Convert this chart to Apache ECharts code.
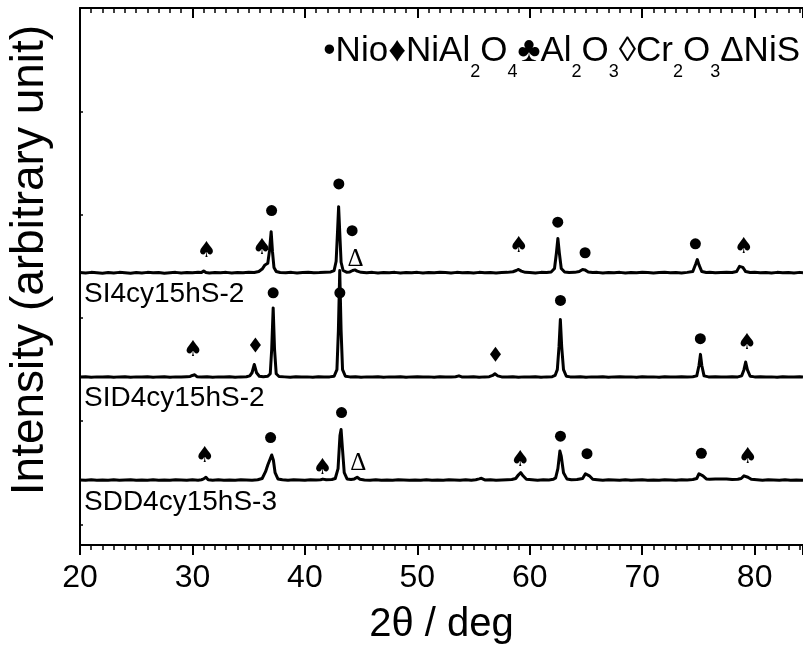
<!DOCTYPE html>
<html>
<head>
<meta charset="utf-8">
<script src="https://cdn.jsdelivr.net/npm/echarts@6/dist/echarts.min.js"></script>
<style>
  html, body { margin: 0; padding: 0; background: #fff; }
  #chart { width: 803px; height: 650px; }
</style>
</head>
<body>
<div id="chart"></div>
<script>
// XRD patterns, 2θ in degrees vs. intensity above each pattern's own baseline
const sampleNames = ['SI4cy15hS-2', 'SID4cy15hS-2', 'SDD4cy15hS-3'];
const offsets = [13.14, 8.09, 3.1];

const patternSI = [
  [20.0,.05],[20.5,.03],[21.0,.06],[21.5,.04],[22.0,.02],[22.5,.05],[23.0,.03],[23.5,.06],[24.0,.04],[24.5,.02],
  [25.0,.05],[25.5,.03],[26.0,.06],[26.5,.04],[27.0,.05],[27.5,.02],[28.0,.04],[28.5,.06],[29.0,.03],[29.5,.05],
  [30.0,.04],[30.5,.06],[30.8,.05],[31.0,.13],[31.2,.05],[31.5,.03],[32.0,.05],[32.5,.04],[33.0,.06],[33.5,.03],
  [34.0,.05],[34.5,.04],[35.0,.06],[35.5,.05],[35.9,.1],[36.2,.22],[36.45,.42],[36.7,.5],[36.85,1.1],[37.0,2.03],
  [37.12,1.05],[37.25,.3],[37.45,.1],[37.8,.05],[38.3,.04],[38.8,.06],[39.3,.03],[39.8,.05],[40.3,.06],[40.8,.04],
  [41.3,.05],[41.8,.07],[42.3,.08],[42.6,.15],[42.78,.6],[42.9,2.0],[43.0,3.24],[43.1,2.0],[43.22,.55],[43.4,.15],
  [43.7,.07],[44.0,.08],[44.25,.15],[44.45,.18],[44.65,.12],[45.0,.06],[45.5,.04],[46.0,.06],[46.5,.03],[47.0,.05],
  [47.5,.04],[48.0,.06],[48.5,.03],[49.0,.05],[49.5,.04],[50.0,.06],[50.5,.03],[51.0,.05],[51.5,.04],[52.0,.06],
  [52.5,.05],[53.0,.03],[53.5,.06],[54.0,.04],[54.5,.05],[55.0,.03],[55.5,.06],[56.0,.04],[56.5,.05],[57.0,.03],
  [57.5,.05],[58.0,.06],[58.5,.09],[58.8,.15],[59.0,.2],[59.25,.12],[59.6,.06],[60.0,.05],[60.5,.03],[61.0,.06],
  [61.5,.05],[61.9,.08],[62.2,.25],[62.37,1.0],[62.5,1.7],[62.63,1.0],[62.8,.25],[63.1,.08],[63.5,.05],[64.0,.06],
  [64.4,.1],[64.7,.2],[64.9,.18],[65.2,.08],[65.6,.05],[66.0,.06],[66.5,.03],[67.0,.05],[67.5,.04],[68.0,.06],
  [68.5,.03],[69.0,.05],[69.5,.04],[70.0,.06],[70.5,.05],[71.0,.03],[71.5,.05],[72.0,.06],[72.5,.04],[73.0,.05],
  [73.5,.03],[74.0,.06],[74.5,.1],[74.75,.45],[74.9,.68],[75.05,.42],[75.3,.1],[75.7,.05],[76.0,.06],[76.5,.04],
  [77.0,.05],[77.5,.06],[78.0,.05],[78.4,.1],[78.65,.35],[78.8,.44],[78.95,.3],[79.2,.1],[79.6,.05],[80.0,.06],
  [80.5,.04],[81.0,.05],[81.5,.03],[82.0,.06],[82.5,.04],[83.0,.05],[83.5,.03],[84.0,.06],[84.3,.04]
];

const patternSID = [
  [20.0,.04],[20.5,.06],[21.0,.03],[21.5,.05],[22.0,.04],[22.5,.06],[23.0,.03],[23.5,.05],[24.0,.06],[24.5,.03],
  [25.0,.05],[25.5,.04],[26.0,.06],[26.5,.03],[27.0,.05],[27.5,.06],[28.0,.03],[28.5,.05],[29.0,.04],[29.5,.06],
  [29.8,.07],[30.0,.12],[30.2,.15],[30.4,.06],[30.8,.04],[31.3,.06],[31.8,.03],[32.3,.05],[32.8,.04],[33.3,.06],
  [33.8,.03],[34.3,.05],[34.8,.06],[35.1,.1],[35.3,.25],[35.5,.65],[35.7,.25],[35.95,.08],[36.3,.06],[36.7,.08],
  [36.92,.2],[37.05,1.4],[37.18,3.39],[37.3,1.4],[37.45,.2],[37.7,.07],[38.2,.05],[38.7,.03],[39.2,.06],[39.7,.04],
  [40.2,.05],[40.7,.03],[41.2,.06],[41.7,.04],[42.2,.05],[42.6,.08],[42.85,.4],[42.98,2.3],[43.1,5.2],[43.22,2.3],
  [43.35,.4],[43.6,.08],[44.0,.05],[44.5,.06],[45.0,.03],[45.5,.05],[46.0,.04],[46.5,.06],[47.0,.03],[47.5,.05],
  [48.0,.04],[48.5,.06],[49.0,.03],[49.5,.05],[50.0,.06],[50.5,.04],[51.0,.05],[51.5,.03],[52.0,.06],[52.5,.04],
  [53.0,.05],[53.4,.06],[53.7,.1],[53.95,.05],[54.5,.04],[55.0,.06],[55.5,.03],[56.0,.05],[56.4,.06],[56.7,.12],
  [56.9,.2],[57.15,.1],[57.5,.05],[58.0,.04],[58.5,.06],[59.0,.03],[59.5,.05],[60.0,.04],[60.5,.06],[61.0,.03],
  [61.5,.05],[62.0,.06],[62.25,.12],[62.45,.4],[62.6,1.5],[62.72,2.83],[62.84,1.5],[63.0,.4],[63.25,.08],[63.6,.05],
  [64.0,.04],[64.5,.06],[65.0,.03],[65.5,.05],[66.0,.04],[66.5,.06],[67.0,.03],[67.5,.05],[68.0,.06],[68.5,.04],
  [69.0,.05],[69.5,.03],[70.0,.06],[70.5,.04],[71.0,.05],[71.5,.03],[72.0,.06],[72.5,.04],[73.0,.05],[73.5,.06],
  [74.0,.04],[74.5,.06],[74.85,.1],[75.05,.6],[75.18,1.14],[75.3,.6],[75.5,.1],[75.9,.05],[76.5,.06],[77.0,.04],
  [77.5,.05],[78.0,.06],[78.5,.05],[78.85,.1],[79.05,.4],[79.2,.77],[79.35,.4],[79.6,.08],[80.0,.05],[80.5,.06],
  [81.0,.04],[81.5,.05],[82.0,.03],[82.5,.06],[83.0,.04],[83.5,.05],[84.0,.06],[84.3,.04]
];

const patternSDD = [
  [20.0,.05],[20.5,.03],[21.0,.06],[21.5,.04],[22.0,.05],[22.5,.03],[23.0,.06],[23.5,.04],[24.0,.05],[24.5,.06],
  [25.0,.03],[25.5,.05],[26.0,.04],[26.5,.06],[27.0,.03],[27.5,.05],[28.0,.04],[28.5,.06],[29.0,.05],[29.5,.03],
  [30.0,.06],[30.5,.04],[30.8,.06],[31.0,.1],[31.2,.18],[31.4,.06],[31.8,.04],[32.3,.06],[32.8,.03],[33.3,.05],
  [33.8,.04],[34.3,.06],[34.8,.05],[35.3,.04],[35.8,.06],[36.2,.12],[36.5,.45],[36.7,.77],[36.85,.75],[37.05,1.26],
  [37.2,1.0],[37.35,.4],[37.6,.1],[38.0,.06],[38.5,.04],[39.0,.06],[39.5,.05],[40.0,.03],[40.5,.06],[41.0,.05],
  [41.4,.06],[41.6,.09],[41.9,.06],[42.4,.07],[42.7,.12],[42.95,.6],[43.12,2.2],[43.22,2.49],[43.35,1.5],[43.5,.4],
  [43.75,.1],[44.1,.07],[44.4,.1],[44.65,.18],[44.9,.08],[45.3,.05],[45.8,.04],[46.3,.06],[46.8,.03],[47.3,.05],
  [47.8,.04],[48.3,.06],[48.8,.05],[49.3,.03],[49.8,.05],[50.3,.04],[50.8,.06],[51.3,.03],[51.8,.05],[52.3,.04],
  [52.8,.06],[53.3,.05],[53.8,.03],[54.3,.06],[54.8,.04],[55.2,.06],[55.5,.1],[55.7,.13],[56.0,.05],[56.5,.06],
  [57.0,.04],[57.5,.05],[58.0,.06],[58.4,.07],[58.75,.12],[59.0,.3],[59.2,.4],[59.4,.25],[59.7,.08],[60.2,.06],
  [60.7,.04],[61.2,.06],[61.7,.05],[62.1,.08],[62.3,.15],[62.5,.6],[62.68,1.45],[62.8,1.2],[63.0,.4],[63.3,.1],
  [63.7,.06],[64.2,.07],[64.7,.12],[64.95,.35],[65.1,.43],[65.3,.25],[65.6,.08],[66.0,.06],[66.5,.04],[67.0,.06],
  [67.5,.05],[68.0,.03],[68.5,.06],[69.0,.04],[69.5,.05],[70.0,.06],[70.5,.04],[71.0,.05],[71.5,.03],[72.0,.06],
  [72.5,.05],[73.0,.04],[73.5,.06],[74.0,.05],[74.5,.07],[74.85,.12],[75.05,.35],[75.2,.43],[75.4,.25],[75.7,.1],
  [76.0,.08],[76.5,.1],[77.0,.09],[77.5,.1],[78.0,.07],[78.5,.08],[78.8,.12],[79.05,.25],[79.2,.3],[79.4,.18],
  [79.7,.08],[80.2,.06],[80.7,.04],[81.2,.06],[81.7,.05],[82.2,.03],[82.7,.06],[83.2,.04],[83.7,.05],[84.3,.04]
];

const patterns = [patternSI, patternSID, patternSDD];

// phase markers: [2θ, height on the intensity scale]
const nioMarks = [
  [37.04,16.19],[43.02,17.48],[44.2,15.22],[62.49,15.63],[64.92,14.15],[74.73,14.58],
  [37.18,12.21],[43.11,12.21],[62.73,11.84],[75.17,9.99],
  [36.95,5.2],[43.26,6.41],[62.73,5.27],[65.09,4.42],[75.26,4.44]
];
const spinelMarks = [[35.6,9.68],[56.95,9.23]];
const aluminaMarks = [
  [31.26,14.22],[36.2,14.39],[59.02,14.47],[79.05,14.42],
  [30.07,9.43],[79.32,9.79],
  [31.11,4.31],[41.57,3.71],[59.17,4.1],[79.4,4.23]
];
const nisMarks = [[44.5,13.82],[44.74,3.95]];

const xTickValues = [20, 30, 40, 50, 60, 70, 80];
const yTickValues = [1, 6, 11, 16, 21, 26];

const chart = echarts.init(document.getElementById('chart'), null, { renderer: 'canvas' });

const FONT = 'Liberation Sans, Arial, sans-serif';

const lineSeries = patterns.map((pts, i) => ({
  type: 'line',
  name: sampleNames[i],
  xAxisIndex: 0,
  yAxisIndex: 0,
  showSymbol: false,
  symbol: 'none',
  smooth: false,
  animation: false,
  lineStyle: { color: '#000', width: 3, join: 'round' },
  data: pts.map(p => [p[0], p[1] + offsets[i]]),
  z: 3
}));

function glyphSeries(data, glyph, fontSize, fontFamily) {
  return {
    type: 'scatter',
    xAxisIndex: 0,
    yAxisIndex: 0,
    symbol: 'circle',
    symbolSize: 2,
    itemStyle: { color: 'rgba(0,0,0,0)', opacity: 1 },
    animation: false,
    silent: true,
    data: data,
    label: {
      show: true,
      position: 'inside',
      formatter: glyph,
      color: '#000',
      opacity: 1,
      fontSize: fontSize,
      fontFamily: fontFamily
    },
    z: 4
  };
}

const option = {
  backgroundColor: '#fff',
  animation: false,
  grid: { left: 80, right: 0, top: 8, bottom: 104, containLabel: false },
  xAxis: [
    {
      type: 'value', position: 'bottom', min: 20, max: 84.3, interval: 10,
      axisLine: { show: true, onZero: false, lineStyle: { color: '#000', width: 2 } },
      axisTick: { show: true, inside: false, length: 10, lineStyle: { color: '#000', width: 2 } },
      minorTick: { show: true, splitNumber: 10, length: 5, lineStyle: { color: '#000', width: 1.5 } },
      axisLabel: {
        color: '#000', fontSize: 32, fontFamily: FONT, margin: 17,
        customValues: xTickValues
      },
      splitLine: { show: false },
      name: '2θ / deg', nameLocation: 'middle', nameGap: 60,
      nameTextStyle: { color: '#000', fontSize: 40, fontFamily: FONT }
    },
    {
      type: 'value', position: 'top', min: 20, max: 84.3, interval: 10,
      axisLine: { show: true, onZero: false, lineStyle: { color: '#000', width: 2 } },
      axisTick: { show: true, inside: true, length: 10, lineStyle: { color: '#000', width: 2 } },
      minorTick: { show: true, splitNumber: 10, length: 5, lineStyle: { color: '#000', width: 1.5 } },
      axisLabel: { show: false },
      splitLine: { show: false }
    }
  ],
  yAxis: [
    {
      type: 'value', min: 0, max: 26,
      axisLine: { show: true, onZero: false, lineStyle: { color: '#000', width: 2 } },
      axisTick: { show: true, inside: true, length: 3, lineStyle: { color: '#000', width: 1.5 }, customValues: yTickValues },
      axisLabel: { show: false },
      splitLine: { show: false }
    }
  ],
  series: [
    ...lineSeries,
    {
      type: 'scatter', xAxisIndex: 0, yAxisIndex: 0, symbol: 'circle', symbolSize: 11,
      itemStyle: { color: '#000', opacity: 1 }, animation: false, silent: true, data: nioMarks, z: 4
    },
    {
      type: 'scatter', xAxisIndex: 0, yAxisIndex: 0, symbol: 'diamond', symbolSize: [11, 15],
      itemStyle: { color: '#000', opacity: 1 }, animation: false, silent: true, data: spinelMarks, z: 4
    },
    glyphSeries(aluminaMarks, '♠', 22, 'DejaVu Sans'),
    glyphSeries(nisMarks, 'Δ', 25, 'Liberation Serif, DejaVu Serif, serif')
  ],
  graphic: [
    {
      type: 'text', x: 30, y: 260, rotation: Math.PI / 2, z: 10,
      style: {
        text: 'Intensity (arbitrary unit)', fill: '#000', fontSize: 46, fontFamily: FONT,
        align: 'center', verticalAlign: 'middle'
      }
    },
    {
      type: 'text', right: 3, top: 34, z: 10,
      style: {
        text: '{m|•Nio♦NiAl}{s|2}{m|O}{s|4}{m|♣Al}{s|2}{m|O}{s|3}{m|◊Cr}{s|2}{m|O}{s|3}{m|ΔNiS}',
        fill: '#000',
        rich: {
          m: { fontSize: 35, fontFamily: FONT, lineHeight: 60, verticalAlign: 'middle', fill: '#000' },
          s: { fontSize: 18, fontFamily: FONT, lineHeight: 18, verticalAlign: 'bottom', fill: '#000' }
        }
      }
    },
    ...sampleNames.map((name, i) => ({
      type: 'text', left: 84, top: [280, 384, 488][i], z: 10,
      style: { text: name, fill: '#000', fontSize: 28, fontFamily: FONT }
    }))
  ]
};

chart.setOption(option);
</script>
</body>
</html>
